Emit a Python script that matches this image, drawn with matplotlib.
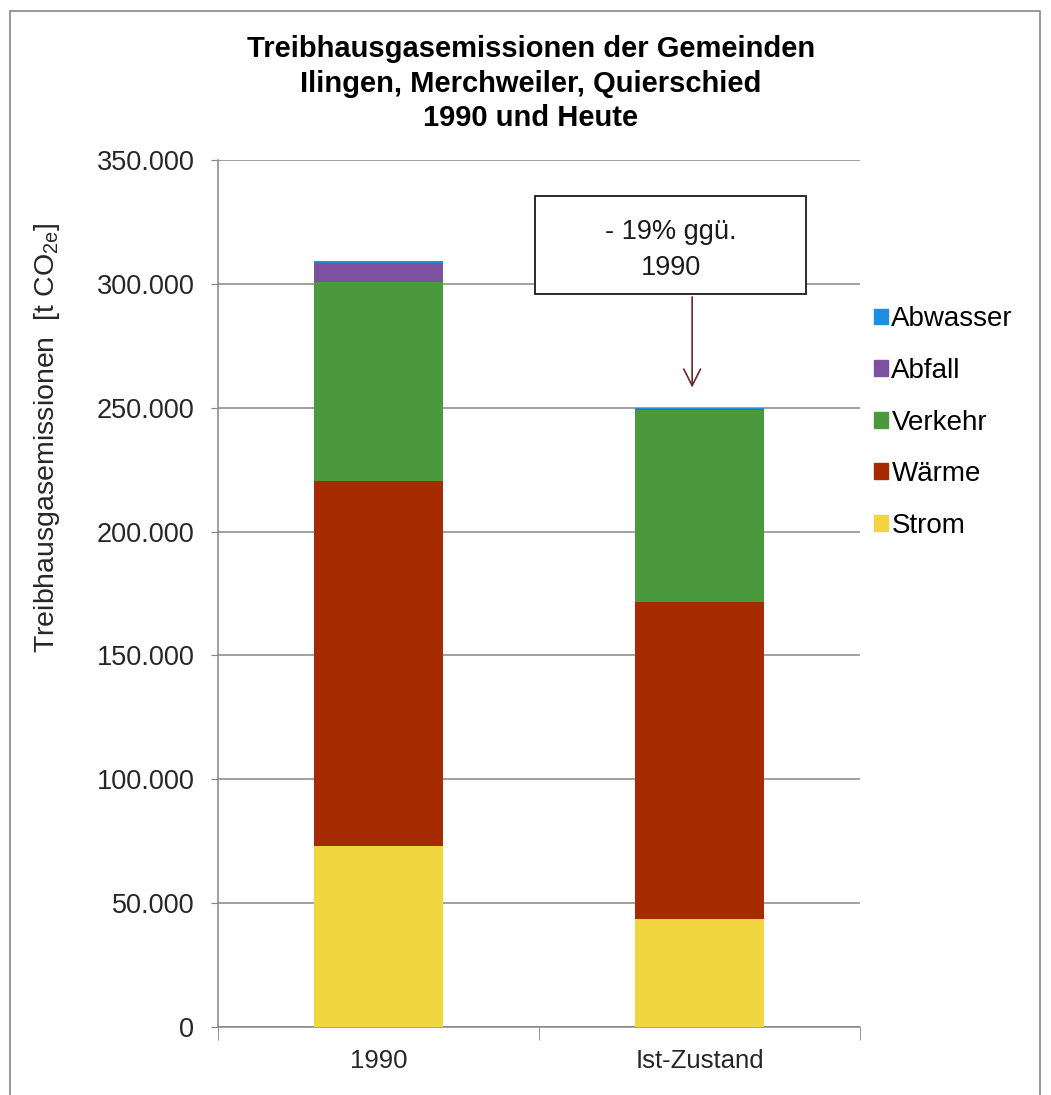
import numpy as np
import matplotlib
matplotlib.use("Agg")
import matplotlib.pyplot as plt
from matplotlib.patches import Patch, Rectangle
from matplotlib.ticker import FuncFormatter

plt.rcParams['font.family'] = ['Liberation Sans', 'DejaVu Sans']

# data (t CO2e)
categories = ['1990', 'Ist-Zustand']
strom = [73000, 43500]
waerme = [147300, 128000]
verkehr = [80300, 77500]
abfall = [7700, 300]
abwasser = [800, 700]

series = [('Strom', strom, '#F2D63F'),
          ('Wärme', waerme, '#A62B00'),
          ('Verkehr', verkehr, '#4A993D'),
          ('Abfall', abfall, '#7D50A0'),
          ('Abwasser', abwasser, '#1E8FE0')]

fig = plt.figure(figsize=(10.51, 10.95), dpi=100)
ax = fig.add_axes([0.2074, 0.0621, 0.6109, 0.7918])

x = np.arange(len(categories))
bottom = np.zeros(len(categories))
for name, vals, col in series:
    ax.bar(x, vals, 0.4, bottom=bottom, color=col, label=name, zorder=3)
    bottom += np.array(vals)

ax.set_xlim(-0.5, 1.5)
ax.set_ylim(0, 350000)
ax.set_yticks(np.arange(0, 350001, 50000))
ax.yaxis.set_major_formatter(FuncFormatter(lambda v, p: f"{int(v):,}".replace(",", ".")))
ax.set_xticks(x)
ax.set_xticklabels(categories)
ax.set_xticks([-0.5, 0.5, 1.5], minor=True)
ax.tick_params(axis='x', which='major', length=0, pad=16, labelsize=18.5, colors='#262626')
ax.tick_params(axis='x', which='minor', length=9, color='#868686', direction='out')
ax.tick_params(axis='y', length=5, color='#868686', pad=12, labelsize=19.5, labelcolor='#262626')
ax.grid(axis='y', color='#868686', linewidth=1.1, zorder=0)

for s in ['top', 'right']:
    ax.spines[s].set_visible(False)
for s in ['left', 'bottom']:
    ax.spines[s].set_color('#868686')
    ax.spines[s].set_linewidth(1.1)

# annotation box + arrow
ax.add_patch(Rectangle((0.4875, 295800), 0.8445, 39550, facecolor='white',
                       edgecolor='#1a1a1a', linewidth=1.3, zorder=5))
ax.text(0.91, 313800, '- 19% ggü.\n1990', ha='center', va='center',
        fontsize=19.5, color='#1a1a1a', linespacing=1.5, zorder=6)
ax.annotate('', xy=(0.977, 257000), xytext=(0.977, 295800),
            arrowprops=dict(arrowstyle='->', color='#6b2a2a', lw=1.2,
                            mutation_scale=30), zorder=6)

# legend
handles = [Patch(color=c, label=n) for n, v, c in series][::-1]
fig.legend(handles=handles, loc='upper left', bbox_to_anchor=(0.808, 0.743),
           frameon=False, fontsize=20, handlelength=0.5, handleheight=0.5,
           handletextpad=0.12, labelspacing=0.92)

fig.text(0.045, 0.6, 'Treibhausgasemissionen  [t CO$_{\\mathregular{2e}}$]', rotation=90,
         ha='center', va='center', fontsize=20.5, color='#262626')

fig.text(0.505, 0.968, 'Treibhausgasemissionen der Gemeinden\nIlingen, Merchweiler, Quierschied\n1990 und Heute',
         ha='center', va='top', fontsize=21, fontweight='bold', linespacing=1.3)

# outer frame
fig.add_artist(Rectangle((10 / 1051, -0.02), 1030 / 1051, 1 - 11 / 1095 + 0.02,
                         transform=fig.transFigure, fill=False,
                         edgecolor='#888888', linewidth=1.2))

fig.savefig('out.png', dpi=100)
